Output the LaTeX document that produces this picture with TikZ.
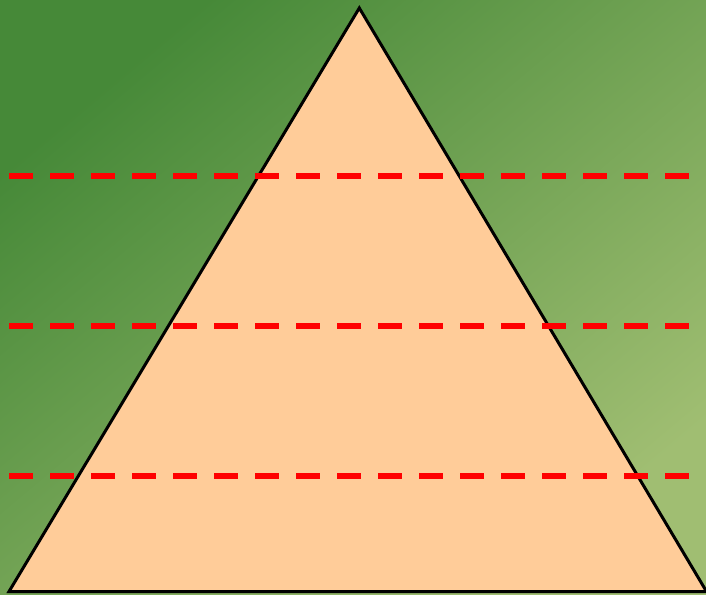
\documentclass[tikz,border=0pt]{standalone}
\usetikzlibrary{calc}
\definecolor{bgA}{RGB}{70,137,56}
\definecolor{bgB}{RGB}{160,190,114}
\definecolor{peach}{RGB}{255,204,153}
\tikzset{
  divider/.style={red, line width=6pt, dash pattern=on 23.5pt off 17.5pt},
  pyramid/.style={fill=peach, draw=black, line width=3pt, line join=miter}
}
\begin{document}
\begin{tikzpicture}[x=1pt,y=-1pt]
\useasboundingbox (0,0) rectangle (706,594);
\shade[top color=bgA, bottom color=bgB, shading angle=40] (0,0) rectangle (706,594);
\coordinate (apex) at (359.3,8);
\coordinate (bl) at (9,591.5);
\coordinate (br) at (706.5,591.5);
\draw[pyramid] (bl) -- (apex) -- (br) -- cycle;
\foreach \n/\y in {1/175.5,2/325.5,3/475.5}{
  \coordinate (l\n) at (9.3,\y);
  \coordinate (r\n) at (700,\y);
  \draw[divider] (l\n) -- (r\n);
}
\end{tikzpicture}
\end{document}
